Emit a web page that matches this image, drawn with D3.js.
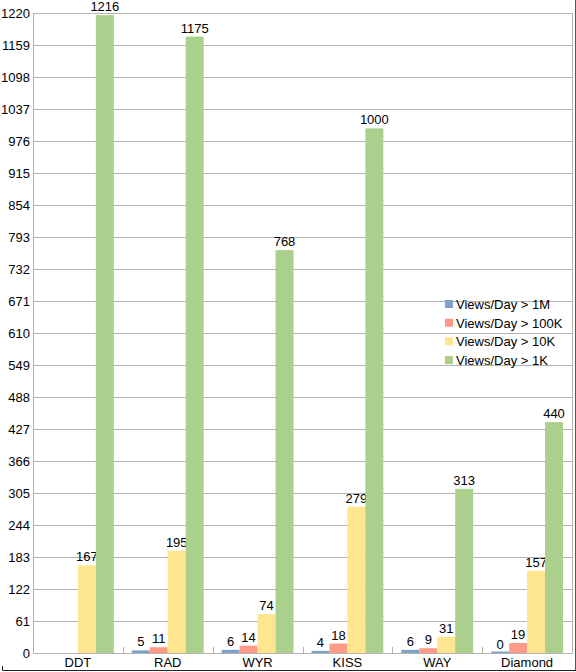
<!DOCTYPE html>
<html>
<head>
<meta charset="utf-8">
<script src="https://cdn.jsdelivr.net/npm/d3@7"></script>
<style>
  body { margin: 0; background: #fff; }
  text { font-family: "Liberation Sans", Arial, sans-serif; }
</style>
</head>
<body>
<div id="chart-area"></div>
<script>
const categories = ["DDT", "RAD", "WYR", "KISS", "WAY", "Diamond"]
const seriesNames = ["Views/Day > 1M", "Views/Day > 100K", "Views/Day > 10K", "Views/Day > 1K"]
const views1M = [null, 5, 6, 4, 6, 0]
const views100K = [null, 11, 14, 18, 9, 19]
const views10K = [167, 195, 74, 279, 31, 157]
const views1K = [1216, 1175, 768, 1000, 313, 440]
const yTicks = d3.range(0, 1221, 61)

const seriesValues = [views1M, views100K, views10K, views1K]
const colors = ["#7ea1c8", "#fe9a85", "#fde68e", "#abcf8d"]

const W = 576, H = 672
const MARGIN = { left: 33, right: 4, top: 13, bottom: 19 }
const WIDTH = W - MARGIN.left - MARGIN.right
const HEIGHT = H - MARGIN.top - MARGIN.bottom

const svg = d3.select("#chart-area").append("svg")
    .attr("width", W)
    .attr("height", H)

const g = svg.append("g")
    .attr("transform", `translate(${MARGIN.left}, ${MARGIN.top})`)

const x = d3.scaleBand()
    .domain(categories)
    .range([0, WIDTH])

const x1 = d3.scaleBand()
    .domain(d3.range(seriesNames.length))
    .range([9, x.bandwidth() - 9])

const y = d3.scaleLinear()
    .domain([0, 1220])
    .range([HEIGHT, 0])

// gridlines
g.selectAll(".grid")
    .data(yTicks)
    .enter().append("line")
    .attr("x1", 0)
    .attr("x2", WIDTH)
    .attr("y1", d => Math.round(y(d)) + 0.5)
    .attr("y2", d => Math.round(y(d)) + 0.5)
    .attr("stroke", "#b3b3b3")

// plot frame right side
g.append("line")
    .attr("x1", WIDTH + 0.5).attr("x2", WIDTH + 0.5)
    .attr("y1", 0).attr("y2", HEIGHT)
    .attr("stroke", "#b3b3b3")

// y axis
const yAxisCall = d3.axisLeft(y)
    .tickValues(yTicks)
    .tickFormat(d3.format("d"))
    .tickSize(0)
    .tickPadding(3)
const yAxis = g.append("g").call(yAxisCall)
yAxis.select(".domain").attr("stroke", "#b3b3b3")
yAxis.selectAll("text")
    .attr("font-size", "13px")
    .attr("fill", "#000")
    .style("font-family", "Liberation Sans, Arial, sans-serif")

// x axis
const xAxisCall = d3.axisBottom(x).tickSize(0).tickPadding(5)
const xAxis = g.append("g")
    .attr("transform", `translate(0, ${HEIGHT})`)
    .call(xAxisCall)
xAxis.select(".domain").attr("stroke", "#b3b3b3")
xAxis.selectAll("text")
    .attr("font-size", "13px")
    .attr("fill", "#000")
    .style("font-family", "Liberation Sans, Arial, sans-serif")

// category separators (inner ticks)
g.selectAll(".sep")
    .data(categories.slice(1))
    .enter().append("line")
    .attr("x1", d => Math.round(x(d)) + 0.5)
    .attr("x2", d => Math.round(x(d)) + 0.5)
    .attr("y1", HEIGHT - 6)
    .attr("y2", HEIGHT)
    .attr("stroke", "#b3b3b3")

// bars
seriesValues.forEach((vals, si) => {
    const data = categories.map((c, i) => ({ c, v: vals[i] })).filter(d => d.v !== null)
    const grp = g.append("g")
    grp.selectAll("rect")
        .data(data)
        .enter().append("rect")
        .attr("x", d => x(d.c) + x1(si))
        .attr("width", x1.bandwidth())
        .attr("y", d => Math.min(y(d.v), HEIGHT - 1.5))
        .attr("height", d => Math.max(HEIGHT - y(d.v), 1.5))
        .attr("fill", colors[si])
    grp.selectAll("text")
        .data(data)
        .enter().append("text")
        .attr("x", d => x(d.c) + x1(si) + x1.bandwidth() / 2)
        .attr("y", d => y(d.v) - 4)
        .attr("text-anchor", "middle")
        .attr("font-size", "13px")
        .attr("fill", "#000")
        .text(d => d.v)
})

// legend
const legend = svg.append("g")
    .attr("transform", "translate(445, 300)")
seriesNames.forEach((name, i) => {
    legend.append("rect")
        .attr("x", 0)
        .attr("y", i * 18.7)
        .attr("width", 8)
        .attr("height", 8)
        .attr("fill", colors[i])
    legend.append("text")
        .attr("x", 11)
        .attr("y", i * 18.7 + 9)
        .attr("font-size", "13px")
        .attr("fill", "#000")
        .text(name)
})

// outer frame remnants
svg.append("path")
    .attr("d", `M2.5,666 V670.5 H${W}`)
    .attr("fill", "none")
    .attr("stroke", "#222")
svg.append("line")
    .attr("x1", 575.5).attr("x2", 575.5)
    .attr("y1", 0).attr("y2", 670)
    .attr("stroke", "#555")
</script>
</body>
</html>
